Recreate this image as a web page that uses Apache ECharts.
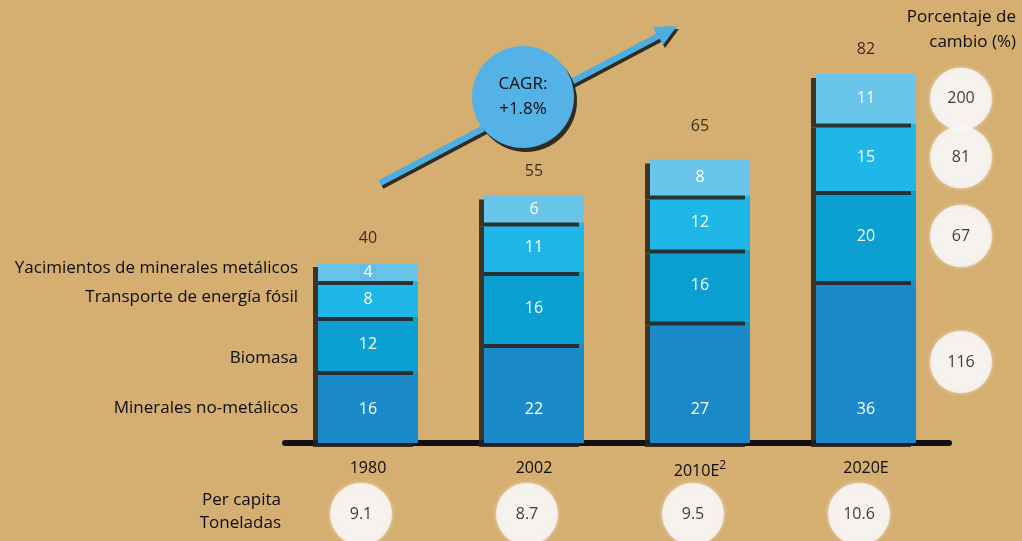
<!DOCTYPE html>
<html>
<head>
<meta charset="utf-8">
<script src="https://cdn.jsdelivr.net/npm/echarts@6/dist/echarts.min.js"></script>
<style>
  html, body { margin: 0; padding: 0; }
  #chart { width: 1022px; height: 541px; }
</style>
</head>
<body>
<div id="chart"></div>
<script>
const years = ['1980', '2002', '2010E', '2020E'];
const seriesNames = ['Minerales no-metálicos', 'Biomasa', 'Transporte de energía fósil', 'Yacimientos de minerales metálicos'];
const minerales = [16, 22, 27, 36];
const biomasa = [12, 16, 16, 20];
const transporte = [8, 11, 12, 15];
const yacimientos = [4, 6, 8, 11];
const totals = [40, 55, 65, 82];
const cambio = [116, 67, 81, 200];   // % change, same order as the stack
const perCapita = [9.1, 8.7, 9.5, 10.6];

const colors = ['#1a8bc8', '#0b9fd2', '#1fb7e7', '#69c6ea'];
const stacks = [minerales, biomasa, transporte, yacimientos];
const font = 'Open Sans';
const ink = '#0d0d0d';

const chart = echarts.init(document.getElementById('chart'));

const barSeries = stacks.map((vals, i) => ({
  name: seriesNames[i],
  type: 'bar',
  stack: 'total',
  barWidth: 100,
  data: vals.map((v, j) => {
    const d = { value: v };
    if (i === 3 && j === 0) {
      d.label = { backgroundColor: '#62bde8', padding: [0, 4] };
    }
    return d;
  }),
  itemStyle: {
    color: colors[i],
    shadowColor: 'rgba(40,34,28,0.88)',
    shadowOffsetX: -5,
    shadowOffsetY: 4,
    shadowBlur: 0
  },
  label: {
    show: true,
    position: i === 0 ? 'insideBottom' : 'inside',
    distance: 26,
    color: '#fff',
    fontSize: 16,
    fontFamily: font
  },
  z: 2
}));

// midpoints of the last stack, for the % change circles
let acc = 0;
const last = years.length - 1;
const cambioData = stacks.map((vals, i) => {
  const mid = acc + vals[last] / 2;
  acc += vals[last];
  return [years[last], mid, cambio[i]];
});

const option = {
  backgroundColor: '#d5ae71',
  animation: false,
  grid: [
    { left: 285, right: 73, top: 38, bottom: 98 },
    { left: 278, right: 80, top: 487, height: 60 }
  ],
  xAxis: [
    {
      type: 'category',
      data: years,
      axisLine: { lineStyle: { color: '#111', width: 6 } },
      axisTick: { show: false },
      axisLabel: {
        margin: 17,
        color: ink,
        fontSize: 16,
        fontFamily: font,
        formatter: v => v === '2010E' ? '{a|2010E}{s|2}' : '{a|' + v + '}',
        rich: {
          a: { fontSize: 16, fontFamily: font, color: ink },
          s: { fontSize: 12, fontFamily: font, color: ink, padding: [0, 0, 10, 0] }
        }
      }
    },
    { type: 'category', data: years, gridIndex: 1, show: false }
  ],
  yAxis: [
    { type: 'value', min: 0, max: 90, show: false },
    { type: 'category', data: ['pc'], gridIndex: 1, show: false }
  ],
  series: [
    ...barSeries,
    {
      type: 'scatter',
      data: years.map((y, i) => [y, totals[i]]),
      symbolSize: 1,
      itemStyle: { color: 'transparent' },
      label: {
        show: true,
        position: 'top',
        distance: 16,
        color: ink,
        fontSize: 16,
        fontFamily: font,
        formatter: p => p.value[1]
      },
      z: 3
    },
    {
      type: 'scatter',
      data: cambioData,
      symbolSize: 62,
      symbolOffset: [95, 0],
      itemStyle: { color: '#f7f7f9', shadowColor: 'rgba(255,255,255,0.7)', shadowBlur: 4 },
      label: {
        show: true,
        position: 'inside',
        color: ink,
        fontSize: 16,
        fontFamily: font,
        formatter: p => p.value[2]
      },
      z: 3
    },
    {
      type: 'scatter',
      xAxisIndex: 1,
      yAxisIndex: 1,
      data: years.map((y, i) => [y, 'pc', perCapita[i]]),
      symbolSize: 62,
      itemStyle: { color: '#f7f7f9', shadowColor: 'rgba(255,255,255,0.7)', shadowBlur: 4 },
      label: {
        show: true,
        position: 'inside',
        color: ink,
        fontSize: 16,
        fontFamily: font,
        formatter: p => p.value[2]
      }
    }
  ],
  graphic: [
    // CAGR arrow
    {
      type: 'line',
      shape: { x1: 380, y1: 183, x2: 664, y2: 33 },
      style: { stroke: '#4daee2', lineWidth: 6, shadowColor: 'rgba(20,20,20,0.85)', shadowOffsetX: 2, shadowOffsetY: 3 }
    },
    {
      type: 'polygon',
      shape: { points: [[677, 26], [653, 27], [663, 45]] },
      style: { fill: '#4daee2', shadowColor: 'rgba(20,20,20,0.85)', shadowOffsetX: 2, shadowOffsetY: 3 }
    },
    {
      type: 'circle',
      shape: { cx: 523, cy: 97, r: 51 },
      style: { fill: '#55b2e6', shadowColor: 'rgba(20,20,20,0.85)', shadowOffsetX: 3, shadowOffsetY: 4 }
    },
    {
      type: 'text', x: 523, y: 97,
      style: { text: 'CAGR:\n+1.8%', fill: ink, font: '17px "Open Sans"', align: 'center', verticalAlign: 'middle', lineHeight: 25 }
    },
    // left series names
    ...[[seriesNames[3], 268], [seriesNames[2], 297], [seriesNames[1], 358], [seriesNames[0], 408]].map(([t, y]) => ({
      type: 'text', x: 298, y: y,
      style: { text: t, fill: ink, font: '17px "Open Sans"', align: 'right', verticalAlign: 'middle' }
    })),
    {
      type: 'text', x: 281, y: 512,
      style: { text: 'Per capita\nToneladas', fill: ink, font: '17px "Open Sans"', align: 'right', verticalAlign: 'middle', lineHeight: 23 }
    },
    {
      type: 'text', x: 1016, y: 30,
      style: { text: 'Porcentaje de\ncambio (%)', fill: ink, font: '17px "Open Sans"', align: 'right', verticalAlign: 'middle', lineHeight: 25 }
    }
  ]
};

chart.setOption(option);
</script>
</body>
</html>
